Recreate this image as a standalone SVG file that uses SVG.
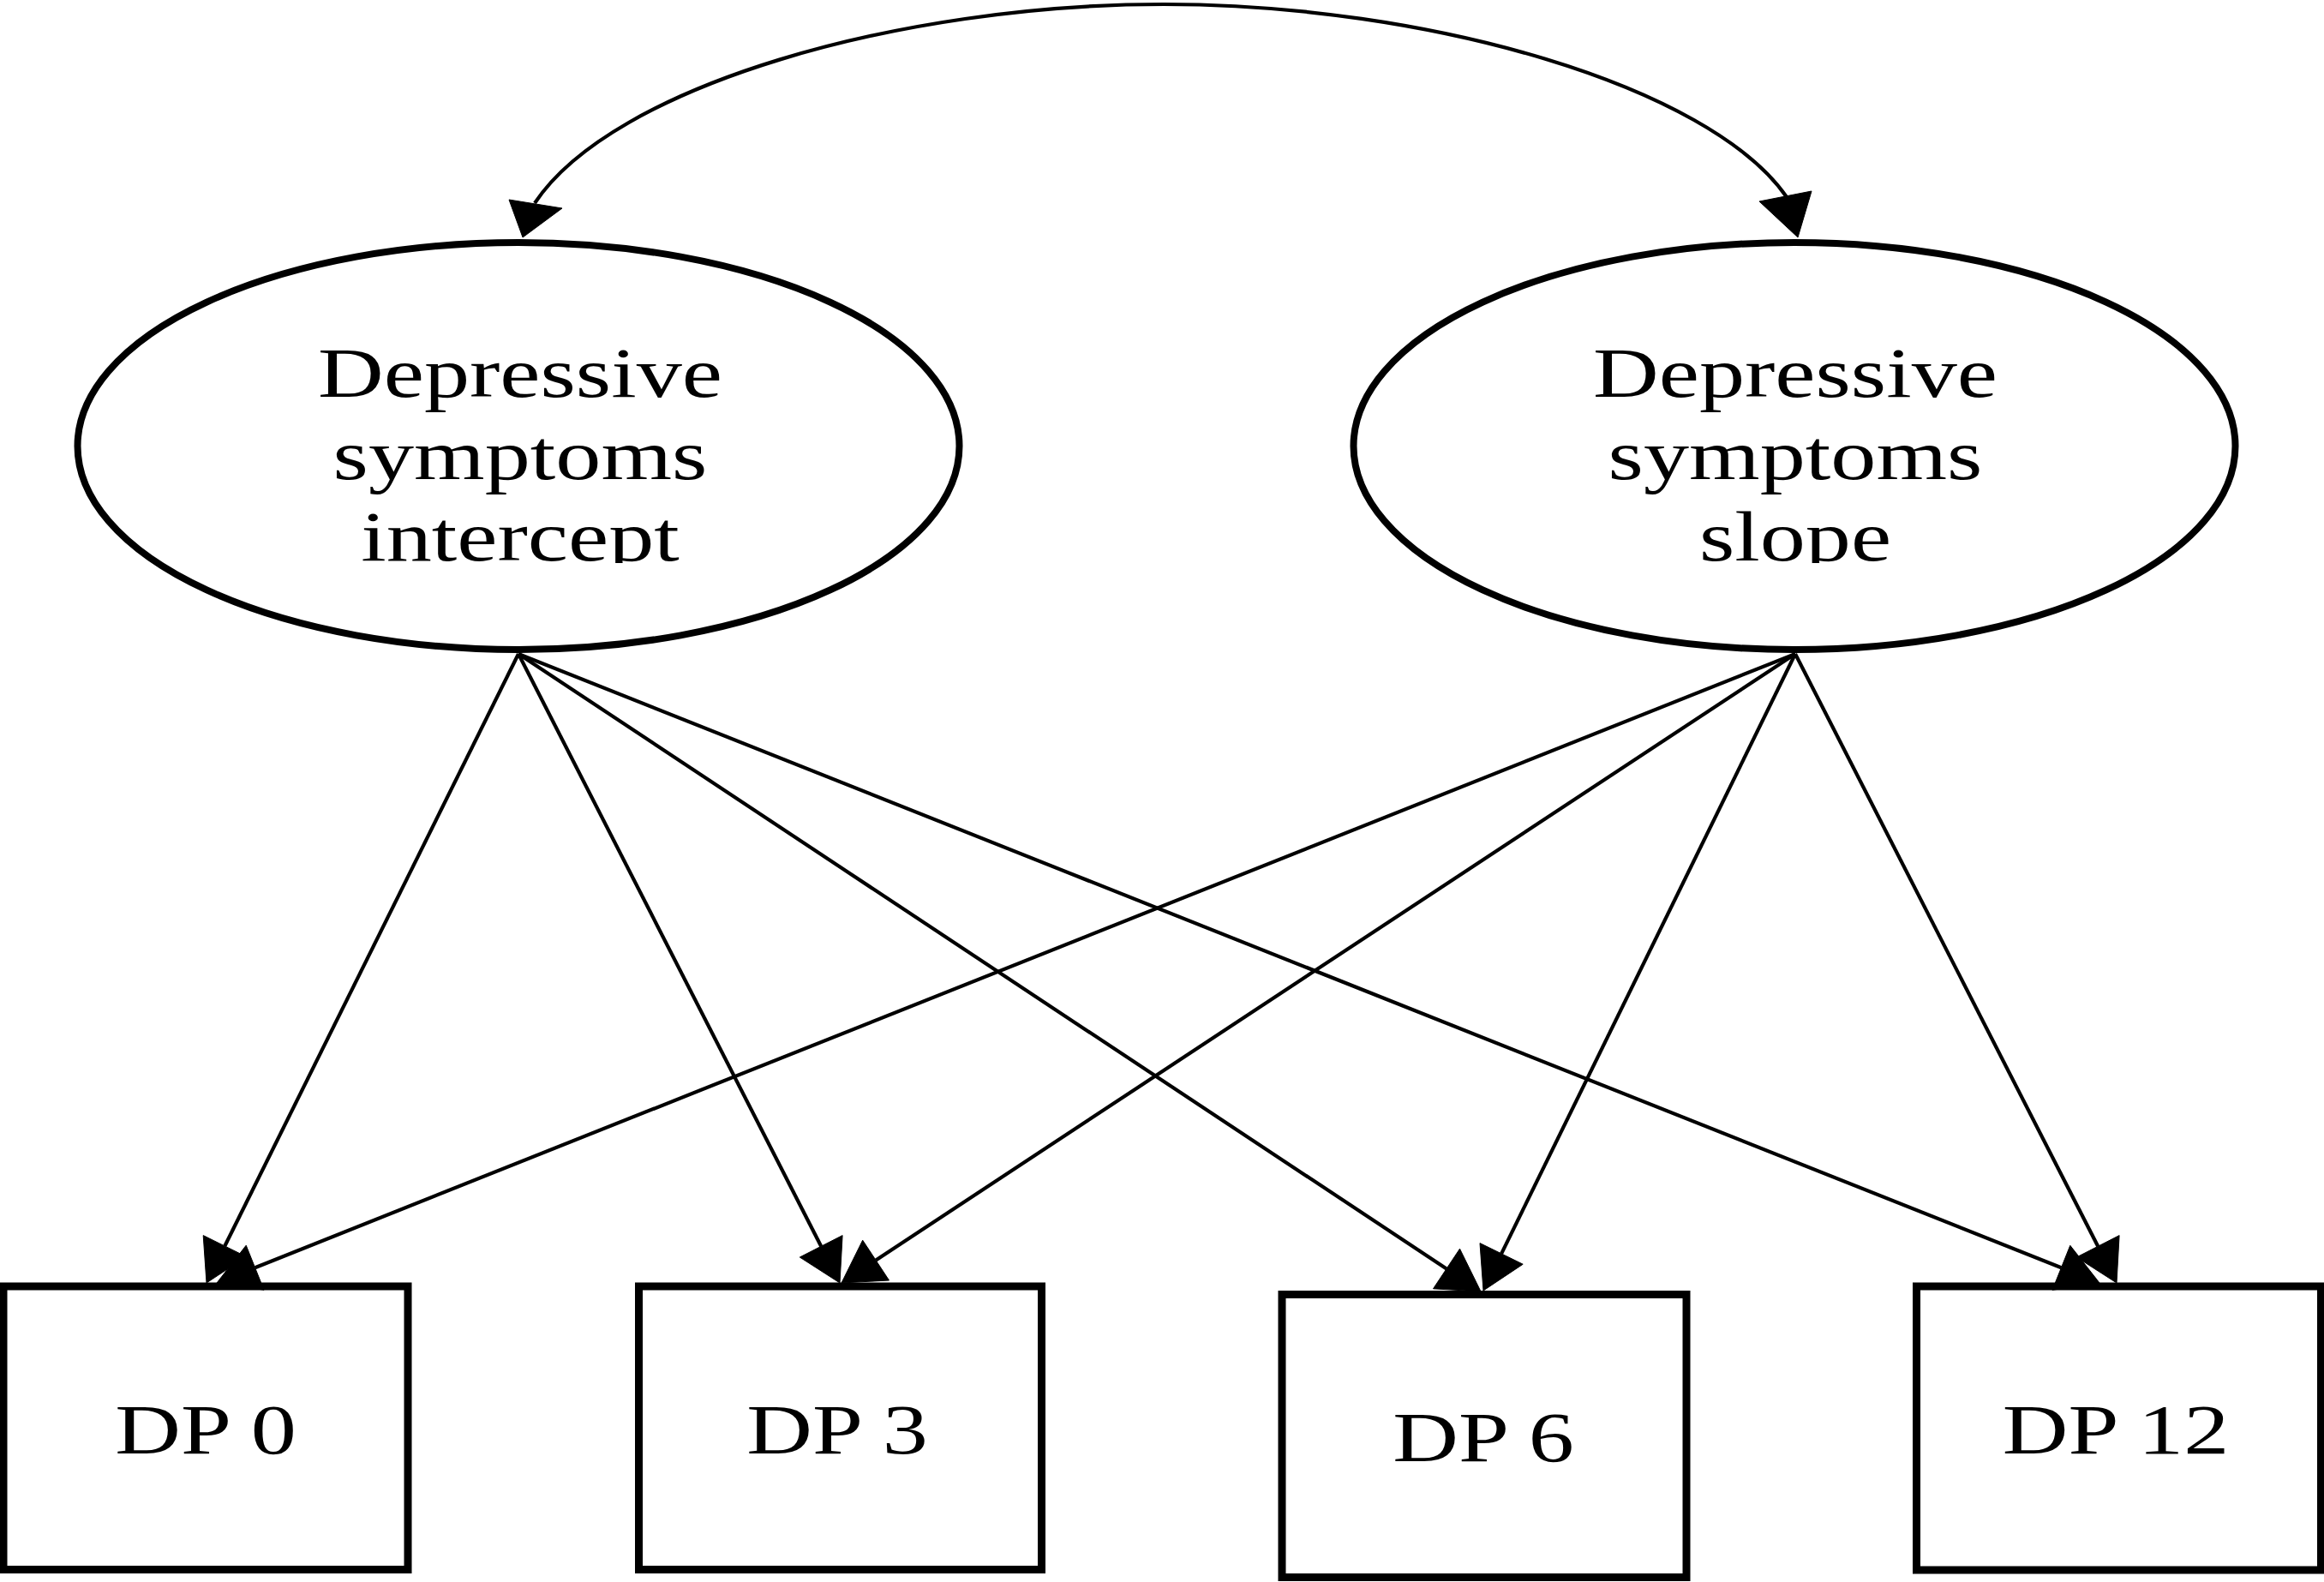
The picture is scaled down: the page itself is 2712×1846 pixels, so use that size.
<svg xmlns="http://www.w3.org/2000/svg" width="2712" height="1846" viewBox="0 0 2712 1846">
<style>
.node{fill:#fff;stroke:#000;stroke-width:9}
.ell{fill:#fff;stroke:#000;stroke-width:8}
.lbl{font-family:"Liberation Serif","Times New Roman",serif;font-size:83px;fill:#000;text-anchor:middle}
.edge{stroke:#000;stroke-width:4.2;fill:none}
.head{fill:#000;stroke:#000;stroke-width:1}
</style>
<defs>
<clipPath id="clipText"><rect x="0" y="0" width="2712" height="657"/></clipPath>
</defs>
<rect width="2712" height="1846" fill="#fff"/>
<g id="n_intercept">
<ellipse class="ell" cx="605" cy="520.5" rx="514.5" ry="237.5"/>
<g clip-path="url(#clipText)">
<text class="lbl" transform="translate(607,463) scale(1.28,1)">Depressive</text>
<text class="lbl" transform="translate(607,559) scale(1.28,1)">symptoms</text>
<text class="lbl" transform="translate(607,654) scale(1.28,1)">intercept</text>
</g>
</g>
<g id="n_slope">
<ellipse class="ell" cx="2094" cy="520.5" rx="514.5" ry="237.5"/>
<g clip-path="url(#clipText)">
<text class="lbl" transform="translate(2095,463) scale(1.28,1)">Depressive</text>
<text class="lbl" transform="translate(2095,559) scale(1.28,1)">symptoms</text>
<text class="lbl" transform="translate(2095,654) scale(1.28,1)">slope</text>
</g>
</g>
<g id="n_dp0">
<rect class="node" x="4" y="1501" width="472" height="330.5"/>
<text class="lbl" transform="translate(240,1696) scale(1.28,1)">DP 0</text>
</g>
<g id="n_dp3">
<rect class="node" x="745.5" y="1501" width="470" height="330.5"/>
<text class="lbl" transform="translate(977,1696) scale(1.28,1)">DP 3</text>
</g>
<g id="n_dp6">
<rect class="node" x="1496" y="1510.5" width="472" height="330"/>
<text class="lbl" transform="translate(1731,1705) scale(1.28,1)">DP 6</text>
</g>
<g id="n_dp12">
<rect class="node" x="2236.5" y="1501" width="472" height="331"/>
<text class="lbl" transform="translate(2469,1696) scale(1.28,1)">DP 12</text>
</g>
<g id="connectors">
<path class="edge" d="M624,237 C715,100 1050,5 1358,5 C1666,5 1995,100 2085,230"/>
<polygon class="head" points="610,277 594,233 656,243"/>
<polygon class="head" points="2098,277 2053,235 2114,223"/>
<line class="edge" x1="605" y1="763" x2="262.3" y2="1454"/>
<polygon class="head" points="241,1497 237.2,1441.6 287.4,1466.4"/>
<line class="edge" x1="2095" y1="763" x2="297.6" y2="1479.2"/>
<polygon class="head" points="253,1497 287.2,1453.2 308,1505.2"/>
<line class="edge" x1="605" y1="763" x2="958.2" y2="1454.3"/>
<polygon class="head" points="980,1497 933.3,1467 983.1,1441.6"/>
<line class="edge" x1="2095" y1="763" x2="1022.1" y2="1470.6"/>
<polygon class="head" points="982,1497 1006.7,1447.2 1037.5,1494"/>
<line class="edge" x1="605" y1="763" x2="1688" y2="1480.5"/>
<polygon class="head" points="1728,1507 1672.5,1503.8 1703.5,1457.2"/>
<line class="edge" x1="2095" y1="763" x2="1752.1" y2="1462.9"/>
<polygon class="head" points="1731,1506 1727,1450.6 1777.2,1475.2"/>
<line class="edge" x1="605" y1="763" x2="2405.4" y2="1479.3"/>
<polygon class="head" points="2450,1497 2395,1505.3 2415.8,1453.3"/>
<line class="edge" x1="2095" y1="763" x2="2448.2" y2="1454.3"/>
<polygon class="head" points="2470,1497 2423.3,1467 2473.1,1441.6"/>
</g>
</svg>
